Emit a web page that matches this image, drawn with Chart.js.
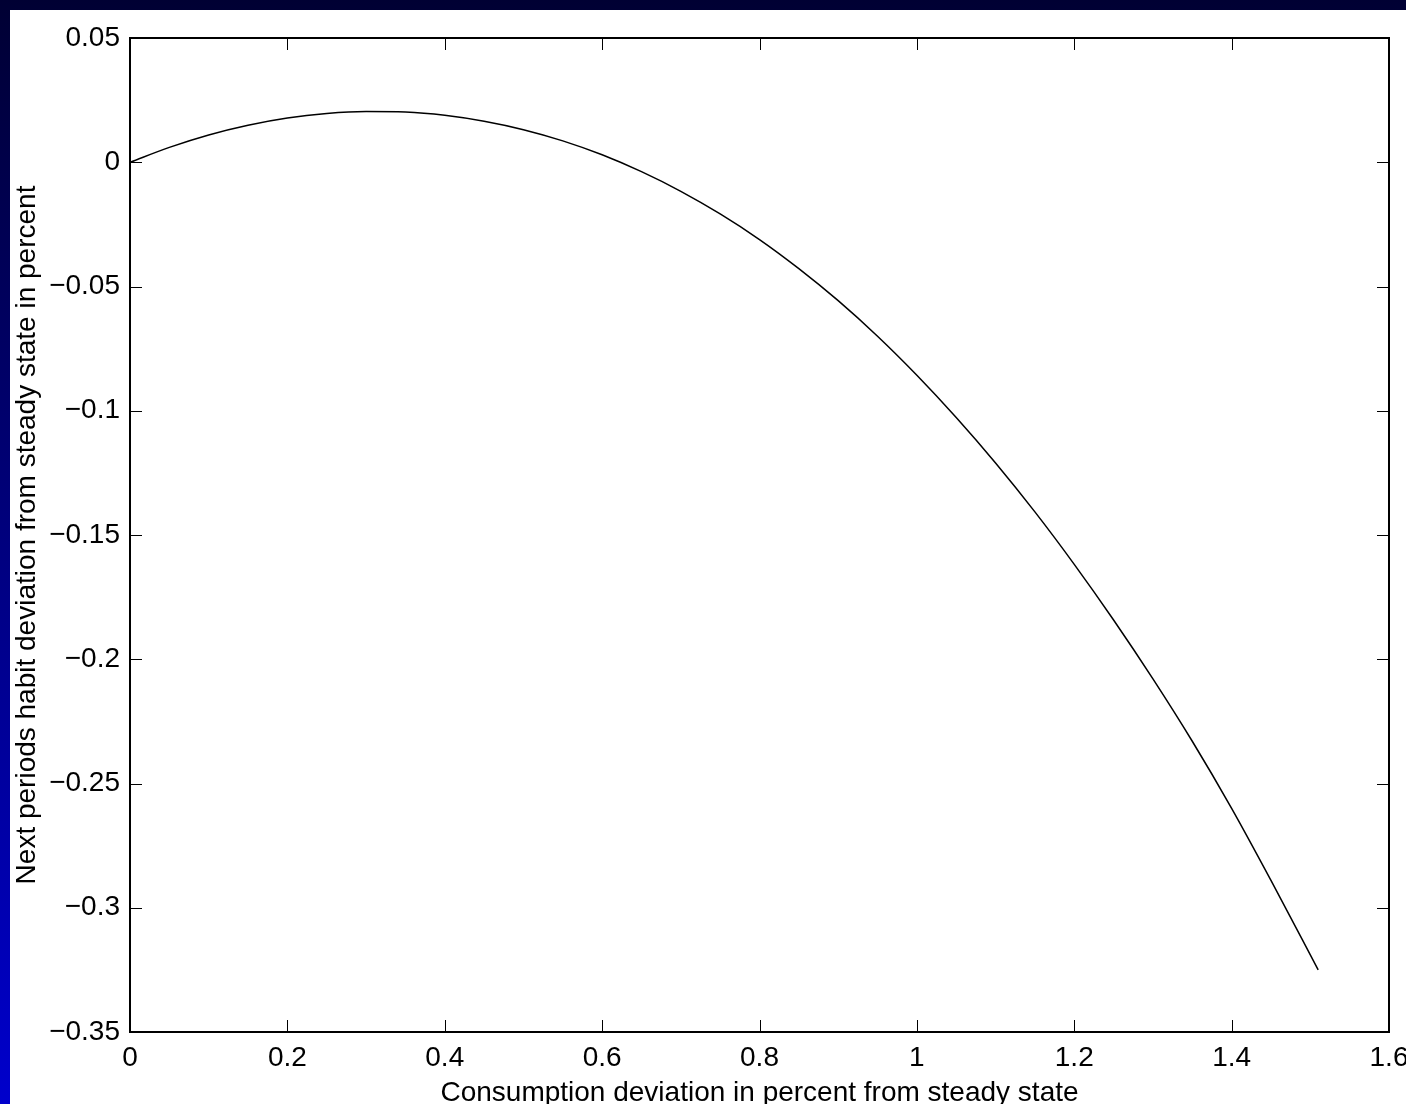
<!DOCTYPE html>
<html>
<head>
<meta charset="utf-8">
<script src="https://cdn.jsdelivr.net/npm/chart.js@4/dist/chart.umd.min.js"></script>
<style>
  html, body { margin: 0; padding: 0; }
  body {
    width: 1406px; height: 1104px; overflow: hidden;
    background: linear-gradient(to bottom, #000033, #0000cc);
  }
  #wrap { position: absolute; left: 10px; top: 10px; width: 1396px; height: 1094px; background: #fff; }
</style>
</head>
<body>
<div id="wrap"><canvas id="habit" width="1396" height="1094"></canvas></div>
<script>
// consumption deviation (x) and next period habit deviation (y)
const consumption = [0, 0.05, 0.1, 0.15, 0.2, 0.25, 0.3, 0.35, 0.4, 0.45, 0.5, 0.55, 0.6, 0.65, 0.7,
  0.75, 0.8, 0.85, 0.9, 0.95, 1.0, 1.05, 1.1, 1.15, 1.2, 1.25, 1.3, 1.35, 1.4, 1.45, 1.51]
const habit = [0, 0.0060, 0.0110, 0.0149, 0.0178, 0.0196, 0.0204, 0.0202, 0.0189, 0.0165, 0.0131,
  0.0086, 0.0030, -0.0038, -0.0117, -0.0208, -0.0311, -0.0428, -0.0557, -0.0700, -0.0857,
  -0.1027, -0.1210, -0.1407, -0.1618, -0.1842, -0.2079, -0.2330, -0.2600, -0.2890, -0.3250]
const xTicks = [0, 0.2, 0.4, 0.6, 0.8, 1, 1.2, 1.4, 1.6]
const yTicks = [0.05, 0, -0.05, -0.1, -0.15, -0.2, -0.25, -0.3, -0.35]

const font = 'Liberation Sans, Arial, Helvetica, sans-serif'

function fmt(v) {
  return String(Number(v.toFixed(2))).replace('-', '\u2212')
}

// matlab style box with inward ticks on all four sides
const boxTicks = {
  id: 'boxTicks',
  afterDraw(chart) {
    const {ctx, chartArea: a, scales: {x, y}} = chart
    const len = 12
    ctx.save()
    ctx.strokeStyle = '#000'
    ctx.lineWidth = 1
    ctx.beginPath()
    xTicks.forEach(v => {
      const px = Math.round(x.getPixelForValue(v)) + 0.5
      ctx.moveTo(px, a.bottom); ctx.lineTo(px, a.bottom - len)
      ctx.moveTo(px, a.top); ctx.lineTo(px, a.top + len)
    })
    yTicks.forEach(v => {
      const py = Math.round(y.getPixelForValue(v)) + 0.5
      ctx.moveTo(a.left, py); ctx.lineTo(a.left + len, py)
      ctx.moveTo(a.right, py); ctx.lineTo(a.right - len, py)
    })
    ctx.stroke()
    ctx.lineWidth = 2
    ctx.strokeRect(a.left, a.top, a.right - a.left, a.bottom - a.top)
    ctx.restore()
  }
}

const ctx = document.getElementById('habit').getContext('2d')
new Chart(ctx, {
  type: 'scatter',
  data: {
    datasets: [{
      data: consumption.map((c, i) => ({x: c, y: habit[i]})),
      showLine: true,
      borderColor: '#000',
      borderWidth: 1.5,
      pointRadius: 0,
      cubicInterpolationMode: 'monotone',
    }]
  },
  options: {
    responsive: false,
    animation: false,
    layout: {padding: {top: 28, right: 17, left: 0, bottom: 0}},
    plugins: {legend: {display: false}, tooltip: {enabled: false}},
    scales: {
      x: {
        type: 'linear', min: 0, max: 1.6,
        afterBuildTicks: s => { s.ticks = xTicks.map(v => ({value: v})) },
        afterFit: s => { s.height = 72; s.paddingLeft = 0; s.paddingRight = 0 },
        grid: {display: false, drawTicks: false},
        border: {display: false},
        ticks: {color: '#000', font: {family: font, size: 28}, padding: 9, maxRotation: 0,
          callback: v => fmt(v)},
        title: {display: true, text: 'Consumption deviation in percent from steady state',
          color: '#000', font: {family: font, size: 28}, padding: {top: 0, bottom: -6}}
      },
      y: {
        type: 'linear', min: -0.35, max: 0.05,
        afterBuildTicks: s => { s.ticks = yTicks.map(v => ({value: v})) },
        afterFit: s => { s.width = 120; s.paddingTop = 0; s.paddingBottom = 0 },
        grid: {display: false, drawTicks: false},
        border: {display: false},
        ticks: {color: '#000', font: {family: font, size: 28}, padding: 10,
          callback: v => fmt(v)},
        title: {display: true, text: 'Next periods habit deviation from steady state in percent',
          color: '#000', font: {family: font, size: 28}, padding: {top: 0, bottom: 0}}
      }
    }
  },
  plugins: [boxTicks]
})
</script>
</body>
</html>
